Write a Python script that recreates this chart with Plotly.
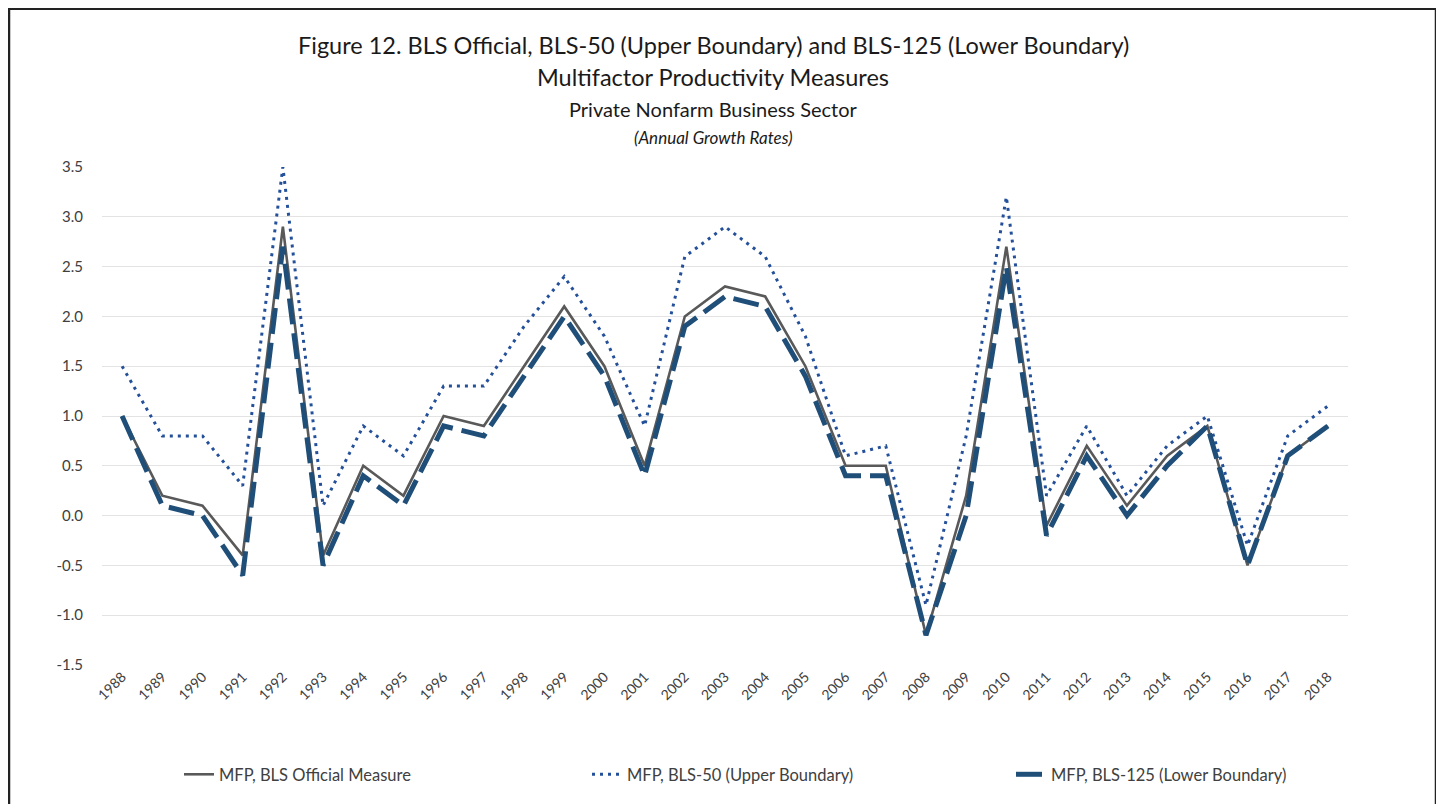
import plotly.graph_objects as go

years = [str(y) for y in range(1988, 2019)]

official = [1.0, 0.2, 0.1, -0.4, 2.9, -0.4, 0.5, 0.2, 1.0, 0.9,
            1.5, 2.1, 1.5, 0.5, 2.0, 2.3, 2.2, 1.5, 0.5, 0.5,
            -1.2, 0.2, 2.7, -0.1, 0.7, 0.1, 0.6, 0.9, -0.5, 0.6, 0.9]

upper_bls50 = [1.5, 0.8, 0.8, 0.3, 3.5, 0.1, 0.9, 0.6, 1.3, 1.3,
               1.9, 2.4, 1.8, 0.9, 2.6, 2.9, 2.6, 1.8, 0.6, 0.7,
               -0.9, 0.8, 3.2, 0.2, 0.9, 0.2, 0.7, 1.0, -0.3, 0.8, 1.1]

lower_bls125 = [1.0, 0.1, 0.0, -0.6, 2.7, -0.5, 0.4, 0.1, 0.9, 0.8,
                1.4, 2.0, 1.4, 0.4, 1.9, 2.2, 2.1, 1.4, 0.4, 0.4,
                -1.2, 0.0, 2.5, -0.2, 0.6, 0.0, 0.5, 0.9, -0.5, 0.6, 0.9]

y_ticks = [-1.5, -1.0, -0.5, 0.0, 0.5, 1.0, 1.5, 2.0, 2.5, 3.0, 3.5]

names = ["MFP, BLS Official Measure",
         "MFP, BLS-50 (Upper Boundary)",
         "MFP, BLS-125 (Lower Boundary)"]

FONT = "Lato"
GRAY = "#595959"
BLUE_DOT = "#24509A"
BLUE_DASH = "#1F4E79"

fig = go.Figure()

fig.add_trace(go.Scatter(
    x=years, y=official, mode="lines", name=names[0], showlegend=True,
    line=dict(color=GRAY, width=2.6), legend="legend"))
fig.add_trace(go.Scatter(
    x=years, y=upper_bls50, mode="lines", name=names[1], showlegend=True,
    line=dict(color=BLUE_DOT, width=3, dash="3px,5px"), legend="legend2"))
fig.add_trace(go.Scatter(
    x=years, y=lower_bls125, mode="lines", name=names[2], showlegend=True,
    line=dict(color=BLUE_DASH, width=5, dash="26px,9px"), legend="legend3"))

# page body adds an 8px offset; work in screen pixels
OFF = 8
W, H = 1444 - 2 * OFF, 812 - 2 * OFF
PL, PR, PT, PB = 102, 1348, 167, 667          # plot area, screen px
L = PL - OFF
R = W - (PR - OFF)
T = PT - OFF
B = H - (PB - OFF)
pw = W - L - R
ph = H - T - B


def sx(px):
    return (px - OFF - L) / pw


def sy(py):
    return (H - B - (py - OFF)) / ph


legend_common = dict(orientation="h", yanchor="middle", xanchor="left",
                     font=dict(family=FONT, size=16.5, color="#404040"),
                     bgcolor="rgba(0,0,0,0)")

fig.update_layout(
    width=W, height=H,
    margin=dict(l=L, r=R, t=T, b=B),
    paper_bgcolor="white", plot_bgcolor="white",
    font=dict(family=FONT, color="#595959"),
    showlegend=True,
    legend=dict(x=sx(179), y=sy(777), **legend_common),
    legend2=dict(x=sx(587), y=sy(777), **legend_common),
    legend3=dict(x=sx(1011), y=sy(777), **legend_common),
    xaxis=dict(type="category", tickangle=-45, range=[-0.5, len(years) - 0.5],
               tickfont=dict(family=FONT, size=14, color="#404040"),
               showgrid=False, showline=False, ticks="", zeroline=False),
    yaxis=dict(range=[-1.5, 3.5], tickvals=y_ticks,
               ticktext=[f"{v:.1f}" for v in y_ticks],
               tickfont=dict(family=FONT, size=15, color="#404040"),
               showgrid=True, gridcolor="#E3E3E3", gridwidth=1.2,
               zeroline=False, showline=False, ticks="", ticklabelstandoff=18),
)

titles = [
    ("Figure 12. BLS Official, BLS-50 (Upper Boundary) and BLS-125 (Lower Boundary)", 23.5, 45),
    ("Multifactor Productivity Measures", 23.5, 77),
    ("Private Nonfarm Business Sector", 20, 109),
    ("<i>(Annual Growth Rates)</i>", 17, 137),
]
for text, size, ypx in titles:
    fig.add_annotation(text=text, xref="paper", yref="paper",
                       x=sx(713), y=sy(ypx), xanchor="center", yanchor="middle",
                       showarrow=False, font=dict(family=FONT, size=size, color="#1a1a1a"))

# outer frame of the figure
fig.add_shape(type="rect", xref="paper", yref="paper",
              x0=sx(9), x1=sx(1436), y0=sy(840), y1=sy(8),
              line=dict(color="#222222", width=2.5), fillcolor="rgba(0,0,0,0)",
              layer="below")

fig.write_html("out.html")
